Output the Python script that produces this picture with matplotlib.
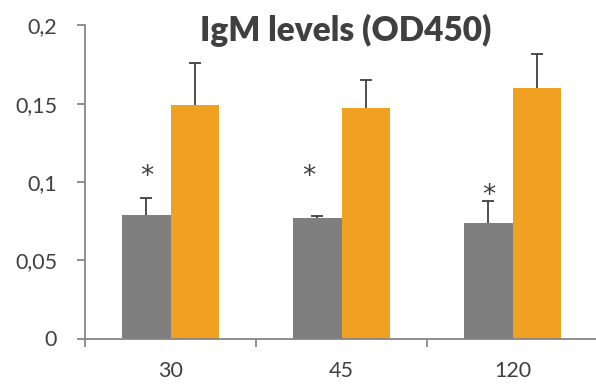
import matplotlib
matplotlib.use("Agg")
import matplotlib.pyplot as plt
import numpy as np

plt.rcParams['font.family'] = ['Lato', 'DejaVu Sans']

categories = ["30", "45", "120"]
gray_values = [0.0789, 0.0767, 0.0740]
gray_err = [0.0110, 0.0013, 0.0140]
orange_values = [0.1493, 0.1470, 0.1602]
orange_err = [0.0268, 0.0179, 0.0217]
star_x = [-0.14, 0.81, 1.86]
star_y = [0.103, 0.103, 0.091]
y_ticks = [0, 0.05, 0.1, 0.15, 0.2]
y_tick_labels = ["0", "0,05", "0,1", "0,15", "0,2"]
title = "IgM levels (OD450)"

W, H = 596, 387
fig = plt.figure(figsize=(W / 100, H / 100), dpi=100)
left = 85 / W
bottom = (H - 338.5) / H
top = (H - 25.3) / H
ax = fig.add_axes([left, bottom, 1 - left, top - bottom])

x = np.arange(len(categories))
bw = 1 / 3.5
gray = "#7f7f7f"
orange = "#f0a122"
dark = "#404040"
axis_col = "#868686"

ax.bar(x - bw / 2, gray_values, bw, color=gray, zorder=2)
ax.bar(x + bw / 2, orange_values, bw, color=orange, zorder=2)
for offs, vals, errs in [(-bw / 2, gray_values, gray_err), (bw / 2, orange_values, orange_err)]:
    xs = x + offs
    vals = np.array(vals)
    errs = np.array(errs)
    ax.errorbar(xs, vals, yerr=[np.zeros(3), errs], fmt='none',
                ecolor=dark, elinewidth=1.3, capsize=0, zorder=3)
    ax.plot(xs, vals + errs, linestyle='none', marker='_', markersize=8.6,
            markeredgewidth=1.3, color=dark, zorder=3)

for sx, sy in zip(star_x, star_y):
    ax.text(sx, sy, "*", ha='center', va='center', fontsize=19, color=dark,
            family='DejaVu Sans')

ax.set_xlim(-0.5, -0.5 + (W - 85) / 171)
ax.set_ylim(0, 0.2)
ax.set_yticks(y_ticks)
ax.set_yticklabels(y_tick_labels)
ax.set_xticks(x)
ax.set_xticklabels(categories)
ax.set_xticks([-0.5, 0.5, 1.5], minor=True)
ax.tick_params(axis='x', which='major', length=0, pad=16, labelsize=15.5, labelcolor="#404040")
ax.tick_params(axis='x', which='minor', length=6, width=1.3, color=axis_col, direction='out')
ax.tick_params(axis='y', length=6, width=1.3, color=axis_col, direction='out', pad=14,
               labelsize=15.5, labelcolor="#404040")

for s in ['top', 'right']:
    ax.spines[s].set_visible(False)
for s in ['left', 'bottom']:
    ax.spines[s].set_color(axis_col)
    ax.spines[s].set_linewidth(1.3)

fig.text(346 / W, 1 - 30 / H, title, ha='center', va='center', fontsize=24,
         fontweight='heavy', color=dark)

fig.savefig("out.png", dpi=100)
